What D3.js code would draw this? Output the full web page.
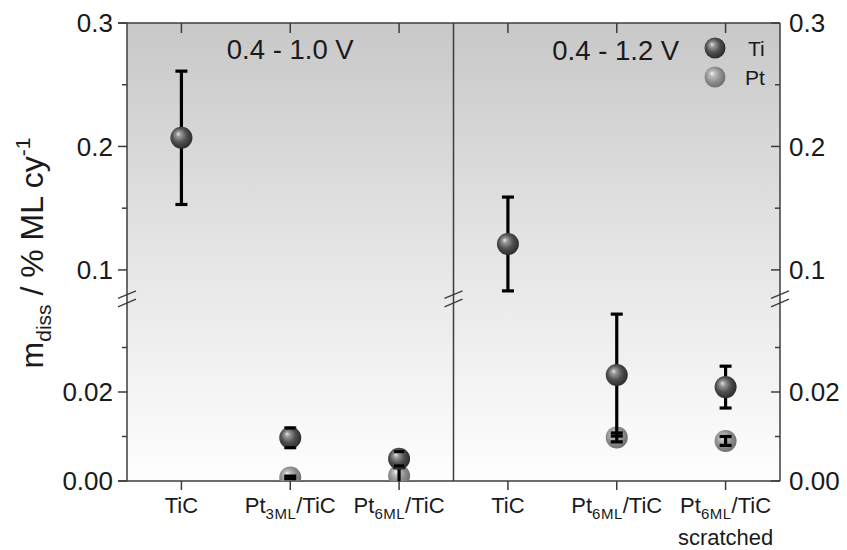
<!DOCTYPE html>
<html>
<head>
<meta charset="utf-8">
<script src="https://cdn.jsdelivr.net/npm/d3@7"></script>
<style>
  html, body { margin: 0; padding: 0; background: #fff; }
  svg { display: block; font-family: "Liberation Sans", Arial, sans-serif; }
</style>
</head>
<body>
<svg id="chart" width="847" height="550"></svg>
<script>
// ---- data ----
const labelMain = ["TiC", "Pt", "Pt", "TiC", "Pt", "Pt"];
const labelSub = ["", "3ML", "6ML", "", "6ML", "6ML"];
const labelRest = ["", "/TiC", "/TiC", "", "/TiC", "/TiC"];
const labelLine2 = ["", "", "", "", "", "scratched"];
const panelLabels = ["0.4 - 1.0 V", "0.4 - 1.2 V"];
const tiValues = [0.207, 0.0097, 0.0050, 0.121, 0.0238, 0.0211];
const tiErr = [0.054, 0.0022, 0.0016, 0.038, 0.0137, 0.0047];
const ptValues = [null, 0.0008, 0.0012, null, 0.0098, 0.0090];
const ptErr = [null, 0.0003, 0.0018, null, 0.0010, 0.0010];
const upperMajor = [0.1, 0.2, 0.3];
const upperMinor = [0.15, 0.25];
const lowerMajor = [0.00, 0.02];
const lowerMinor = [0.01, 0.03];
const upperTickLabels = ["0.1", "0.2", "0.3"];
const lowerTickLabels = ["0.00", "0.02"];
const legendNames = ["Ti", "Pt"];

// ---- layout ----
const svg = d3.select("#chart");
const L = 127, R = 780, T = 23, B = 481;
const x = d3.scaleBand().domain(d3.range(labelMain.length)).range([L, R]).padding(0);
const xc = i => x(i) + x.bandwidth() / 2;
const yU = d3.scaleLinear().domain([0.08, 0.3]).range([294.6, T]);
const yL = d3.scaleLinear().domain([0, 0.04]).range([B, 303]);
const y = v => v >= 0.06 ? yU(v) : yL(v);

const defs = svg.append("defs");
const bg = defs.append("linearGradient").attr("id", "bg").attr("x1", 0).attr("y1", 0).attr("x2", 0).attr("y2", 1);
bg.append("stop").attr("offset", "0%").attr("stop-color", "#c8c8c8");
bg.append("stop").attr("offset", "50%").attr("stop-color", "#e5e5e5");
bg.append("stop").attr("offset", "100%").attr("stop-color", "#fefefe");

function sphereGrad(id, stops) {
  const g = defs.append("radialGradient").attr("id", id)
    .attr("cx", "45%").attr("cy", "45%").attr("r", "60%")
    .attr("fx", "35%").attr("fy", "32%");
  stops.forEach(s => g.append("stop").attr("offset", s[0]).attr("stop-color", s[1]));
}
sphereGrad("gTi", [["0%", "#e8e8e8"], ["18%", "#9c9c9c"], ["55%", "#505050"], ["100%", "#262626"]]);
sphereGrad("gPt", [["0%", "#f6f6f6"], ["22%", "#bdbdbd"], ["60%", "#8e8e8e"], ["100%", "#6a6a6a"]]);

defs.append("clipPath").attr("id", "clip").append("rect")
  .attr("x", L).attr("y", T).attr("width", R - L).attr("height", B - T);

// background
svg.append("rect").attr("x", L).attr("y", T).attr("width", R - L).attr("height", B - T).attr("fill", "url(#bg)");

const axisColor = "#3c3c3c";

// divider
const divX = x(3);
svg.append("line").attr("x1", divX).attr("x2", divX).attr("y1", T).attr("y2", B)
  .attr("stroke", "#3c3c3c").attr("stroke-width", 1.5);

// axes frame
svg.append("line").attr("x1", L).attr("x2", L).attr("y1", T).attr("y2", B).attr("stroke", axisColor).attr("stroke-width", 1.5);
svg.append("line").attr("x1", R).attr("x2", R).attr("y1", T).attr("y2", B).attr("stroke", axisColor).attr("stroke-width", 1.5);
svg.append("line").attr("x1", L - 9).attr("x2", R).attr("y1", B).attr("y2", B).attr("stroke", axisColor).attr("stroke-width", 1.5);
svg.append("line").attr("x1", L - 9).attr("x2", R).attr("y1", T).attr("y2", T).attr("stroke", axisColor).attr("stroke-width", 1.5);

// y ticks
const majors = upperMajor.map((v, i) => ({ v, label: upperTickLabels[i] }))
  .concat(lowerMajor.map((v, i) => ({ v, label: lowerTickLabels[i] })));
const minors = upperMinor.concat(lowerMinor);

const tk = svg.append("g").attr("stroke", axisColor).attr("stroke-width", 1.5);
majors.forEach(d => {
  tk.append("line").attr("x1", L - 9).attr("x2", L).attr("y1", y(d.v)).attr("y2", y(d.v));
  tk.append("line").attr("x1", R - 9).attr("x2", R).attr("y1", y(d.v)).attr("y2", y(d.v));
});
minors.forEach(v => {
  tk.append("line").attr("x1", L - 5).attr("x2", L).attr("y1", y(v)).attr("y2", y(v));
  tk.append("line").attr("x1", R - 5).attr("x2", R).attr("y1", y(v)).attr("y2", y(v));
});
// x ticks
d3.range(labelMain.length).forEach(i => {
  tk.append("line").attr("x1", xc(i)).attr("x2", xc(i)).attr("y1", B).attr("y2", B + 9);
  tk.append("line").attr("x1", xc(i)).attr("x2", xc(i)).attr("y1", T).attr("y2", T + 10);
});

// tick labels
const fs = 26;
majors.forEach(d => {
  svg.append("text").attr("x", L - 14).attr("y", y(d.v)).attr("dy", "0.36em")
    .attr("text-anchor", "end").attr("font-size", fs).attr("fill", "#1a1a1a").text(d.label);
  svg.append("text").attr("x", R + 9).attr("y", y(d.v)).attr("dy", "0.36em")
    .attr("text-anchor", "start").attr("font-size", fs).attr("fill", "#1a1a1a").text(d.label);
});

// break marks
function breakMark(cx) {
  [yU(0.08), yL(0.04)].forEach(yy => {
    svg.append("line").attr("x1", cx - 9).attr("x2", cx + 9).attr("y1", yy + 3.8).attr("y2", yy - 3.8)
      .attr("stroke", "#3c3c3c").attr("stroke-width", 1.3);
  });
}
breakMark(L); breakMark(divX); breakMark(R);

// x labels
d3.range(labelMain.length).forEach(i => {
  const t = svg.append("text").attr("x", xc(i)).attr("y", 513).attr("text-anchor", "middle")
    .attr("font-size", 22).attr("fill", "#1a1a1a");
  t.append("tspan").text(labelMain[i]);
  if (labelSub[i]) {
    t.append("tspan").attr("font-size", 15).attr("dy", 6).attr("letter-spacing", 0.5).text(labelSub[i]);
    t.append("tspan").attr("dy", -6).text(labelRest[i]);
  }
  if (labelLine2[i]) {
    svg.append("text").attr("x", xc(i)).attr("y", 545).attr("text-anchor", "middle")
      .attr("font-size", 22).attr("fill", "#1a1a1a").text(labelLine2[i]);
  }
});

// y title
const yt = svg.append("text").attr("transform", "translate(43,253) rotate(-90)")
  .attr("text-anchor", "middle").attr("font-size", 32).attr("fill", "#1a1a1a");
yt.append("tspan").text("m");
yt.append("tspan").attr("font-size", 21).attr("dy", 8).text("diss");
yt.append("tspan").attr("dy", -8).text(" / % ML cy");
yt.append("tspan").attr("font-size", 21).attr("dy", -13).text("-1");

// panel labels
svg.append("text").attr("x", (x(0) + x(3)) / 2).attr("y", 59).attr("text-anchor", "middle")
  .attr("font-size", 27.5).attr("fill", "#1a1a1a").text(panelLabels[0]);
svg.append("text").attr("x", (x(3) + R) / 2 - 1).attr("y", 60).attr("text-anchor", "middle")
  .attr("font-size", 27.5).attr("fill", "#1a1a1a").text(panelLabels[1]);

// data
const plot = svg.append("g").attr("clip-path", "url(#clip)");
const rad = 11;
function errBar(g, cx, v, e) {
  const y1 = y(v + e), y2 = y(v - e);
  g.append("line").attr("x1", cx).attr("x2", cx).attr("y1", y1).attr("y2", y2)
    .attr("stroke", "#000").attr("stroke-width", 3.2);
  [y1, y2].forEach(yy => g.append("line").attr("x1", cx - 6).attr("x2", cx + 6).attr("y1", yy).attr("y2", yy)
    .attr("stroke", "#000").attr("stroke-width", 3.2));
}
// Pt spheres
ptValues.forEach((v, i) => {
  if (v == null) return;
  plot.append("circle").attr("cx", xc(i)).attr("cy", y(v)).attr("r", rad).attr("fill", "url(#gPt)");
});
// error bars
ptValues.forEach((v, i) => { if (v != null) errBar(plot, xc(i), v, ptErr[i]); });
tiValues.forEach((v, i) => errBar(plot, xc(i), v, tiErr[i]));
// Ti spheres
tiValues.forEach((v, i) => {
  plot.append("circle").attr("cx", xc(i)).attr("cy", y(v)).attr("r", rad).attr("fill", "url(#gTi)");
});
// re-draw small Ti caps on top for tiny error bars
tiValues.forEach((v, i) => {
  if (y(v - tiErr[i]) - y(v + tiErr[i]) < 2 * rad + 4) {
    [y(v + tiErr[i]), y(v - tiErr[i])].forEach(yy => plot.append("line")
      .attr("x1", xc(i) - 5).attr("x2", xc(i) + 5).attr("y1", yy).attr("y2", yy)
      .attr("stroke", "#000").attr("stroke-width", 3));
  }
});

// legend
legendNames.forEach((n, i) => {
  const ly = 48 + i * 29;
  svg.append("circle").attr("cx", 715).attr("cy", ly).attr("r", 10.5).attr("fill", i === 0 ? "url(#gTi)" : "url(#gPt)");
  svg.append("text").attr("x", i === 0 ? 748 : 745).attr("y", ly).attr("dy", "0.36em")
    .attr("font-size", 21).attr("fill", "#1a1a1a").text(n);
});
</script>
</body>
</html>
